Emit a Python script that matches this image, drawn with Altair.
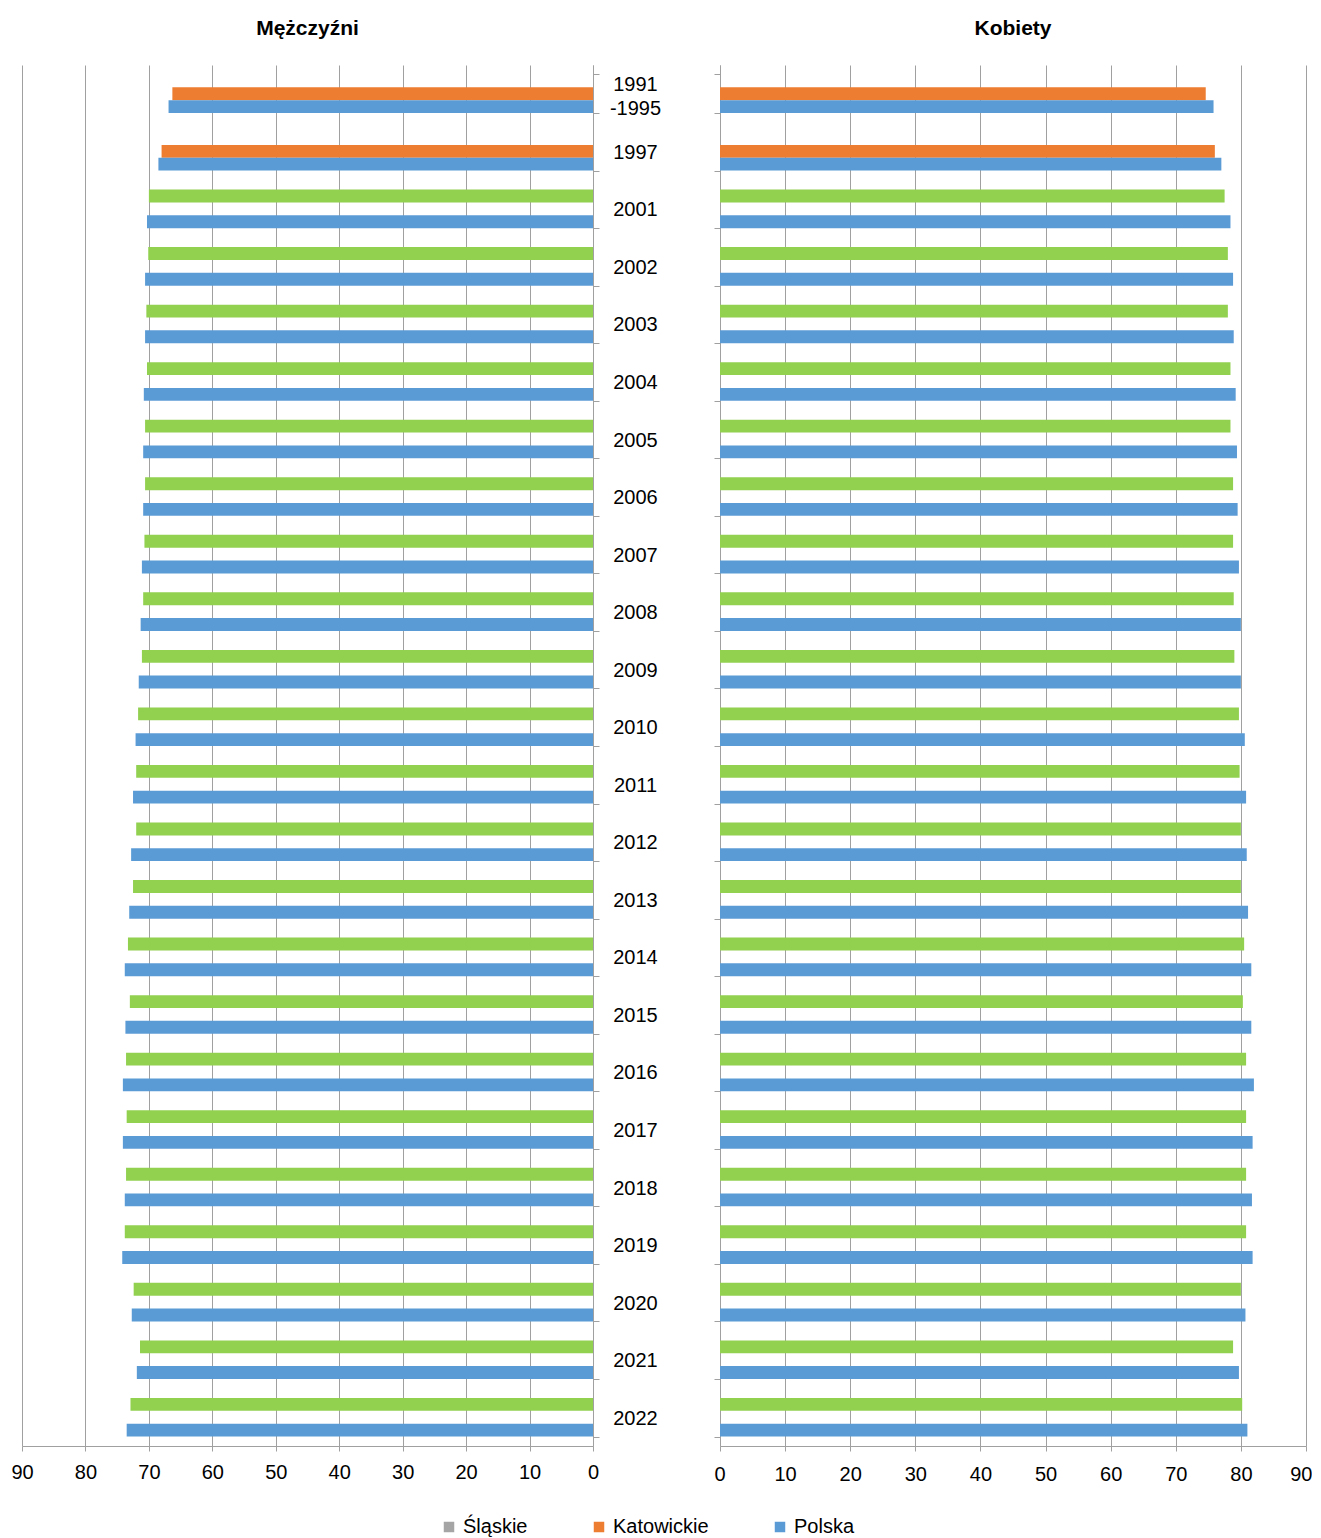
import altair as alt
import pandas as pd

categories = ["1991-1995", "1997", "2001", "2002", "2003", "2004", "2005", "2006",
              "2007", "2008", "2009", "2010", "2011", "2012", "2013", "2014",
              "2015", "2016", "2017", "2018", "2019", "2020", "2021", "2022"]
series_names = ["Śląskie", "Katowickie", "Polska"]

men_slaskie = [None, None, 70.0, 70.1, 70.4, 70.3, 70.6, 70.6, 70.7, 70.9, 71.1, 71.7,
               72.0, 72.0, 72.5, 73.3, 73.0, 73.6, 73.5, 73.6, 73.8, 72.4, 71.4, 72.9]
men_katowickie = [66.3, 68.0] + [None] * 22
men_polska = [66.9, 68.5, 70.3, 70.6, 70.6, 70.8, 70.9, 70.9, 71.1, 71.3, 71.6, 72.1,
              72.5, 72.8, 73.1, 73.8, 73.7, 74.1, 74.1, 73.8, 74.2, 72.7, 71.9, 73.5]

women_slaskie = [None, None, 77.5, 78.0, 78.0, 78.4, 78.4, 78.8, 78.8, 78.9, 79.0, 79.7,
                 79.8, 80.0, 80.0, 80.5, 80.3, 80.8, 80.8, 80.8, 80.8, 80.0, 78.8, 80.2]
women_katowickie = [74.6, 76.0] + [None] * 22
women_polska = [75.8, 77.0, 78.4, 78.8, 78.9, 79.2, 79.4, 79.5, 79.7, 80.0, 80.0, 80.6,
                80.8, 80.9, 81.1, 81.6, 81.6, 82.0, 81.8, 81.7, 81.8, 80.7, 79.7, 81.0]

GREEN = "#92D050"
ORANGE = "#ED7D31"
BLUE = "#5B9BD5"
GREY = "#A5A5A5"
FONT = "Liberation Sans"


def build(series_lists):
    rows = []
    for i, cat in enumerate(categories):
        for name, vals in zip(series_names, series_lists):
            v = vals[i]
            if v is not None:
                rows.append({"kategoria": cat, "seria": name, "wartosc": v})
    return pd.DataFrame(rows)


df_m = build([men_slaskie, men_katowickie, men_polska])
df_w = build([women_slaskie, women_katowickie, women_polska])

ticks = list(range(0, 91, 10))

y_scale = alt.Scale(domain=categories, paddingInner=0.33, paddingOuter=0.165)
yoff = alt.YOffset("seria:N", scale=alt.Scale(domain=series_names, paddingInner=0, paddingOuter=0))

legend = alt.Legend(title=None, orient="none", direction="horizontal",
                    legendX=417, legendY=1452,
                    symbolType="square", symbolSize=110, symbolOpacity=1,
                    symbolStrokeWidth=0, labelFontSize=20, labelOffset=4,
                    columnPadding=61, labelFont=FONT, labelColor="#000000")

fill = alt.condition(
    "datum.seria == 'Śląskie'",
    alt.value(GREEN),
    alt.Fill("seria:N", scale=alt.Scale(domain=series_names, range=[GREY, ORANGE, BLUE]),
             legend=legend),
)

PANEL_H = 1381

left = alt.Chart(df_m).mark_bar().encode(
    x=alt.X("wartosc:Q",
            scale=alt.Scale(domain=[0, 90], reverse=True, nice=False, zero=True),
            axis=alt.Axis(values=ticks, title=None, grid=True, tickSize=5, labelPadding=11,
                          labelFlush=False)),
    y=alt.Y("kategoria:N", scale=y_scale, sort=categories,
            axis=alt.Axis(orient="right", title=None, tickBand="extent", tickSize=6,
                          labelAlign="center", labelPadding=36, labelLineHeight=24,
                          labelOffset={"condition": {"test": "datum.value == '1991-1995'", "value": -9},
                                       "value": 1},
                          labelExpr="datum.value == '1991-1995' ? ['1991', '-1995'] : datum.label")),
    yOffset=yoff,
    fill=fill,
).properties(width=571, height=PANEL_H, title=alt.Title("Mężczyźni", dy=10))

right = alt.Chart(df_w).mark_bar().encode(
    x=alt.X("wartosc:Q",
            scale=alt.Scale(domain=[0, 90], nice=False, zero=True),
            axis=alt.Axis(values=ticks, title=None, grid=True, tickSize=5, labelPadding=13,
                          labelFlush=True, labelFlushOffset=6)),
    y=alt.Y("kategoria:N", scale=y_scale, sort=categories,
            axis=alt.Axis(orient="left", title=None, tickBand="extent", tickSize=6, labels=False)),
    yOffset=yoff,
    fill=fill,
).properties(width=586, height=PANEL_H, title=alt.Title("Kobiety"))

chart = alt.hconcat(left, right, spacing=52).properties(
    padding={"left": 2, "top": 10, "right": 0, "bottom": 0}
).configure(
    font=FONT
).configure_view(
    stroke=None
).configure_axis(
    labelFont=FONT, labelFontSize=20, labelColor="#000000",
    domainColor="#a0a0a0", tickColor="#a0a0a0", gridColor="#a0a0a0",
    domainWidth=1, tickWidth=1, gridWidth=1
).configure_title(
    font=FONT, fontSize=21, fontWeight="bold", color="#000000", anchor="middle", offset=26
)

chart.save("out.html", embed_options={"renderer": "svg", "actions": False})
